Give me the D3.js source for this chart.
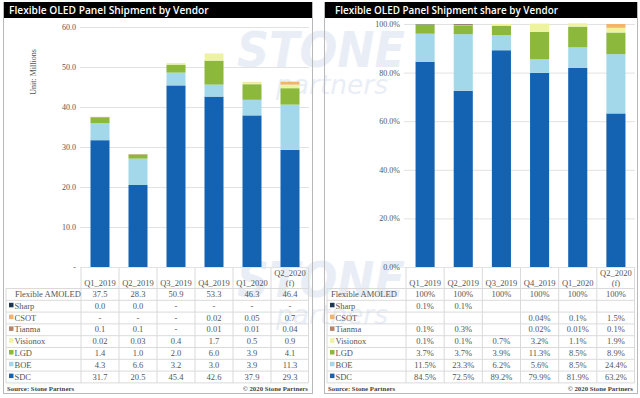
<!DOCTYPE html>
<html><head><meta charset="utf-8">
<script src="https://cdn.jsdelivr.net/npm/d3@7"></script>
<style>body{margin:0;background:#fff}svg{display:block}</style>
</head><body>
<svg id="c" width="640" height="398"></svg>
<script>
// ---------- DATA ----------
const categories = ["Q1_2019","Q2_2019","Q3_2019","Q4_2019","Q1_2020","Q2_2020"];
const categoryLabels = [["Q1_2019"],["Q2_2019"],["Q3_2019"],["Q4_2019"],["Q1_2020"],["Q2_2020","(f)"]];
const vendors = ["Sharp","CSOT","Tianma","Visionox","LGD","BOE","SDC"];
const vendorColors = ["#1b3552","#f2b36b","#b4836a","#eef39f","#8cb83b","#a3d8ea","#1363b2"];

// Shipments (unit: millions)
const totalShip   = [37.5, 28.3, 50.9, 53.3, 46.3, 46.4];
const sharpShip   = [0.0, 0.0, null, null, null, null];
const csotShip    = [null, null, null, 0.02, 0.05, 0.7];
const tianmaShip  = [0.1, 0.1, null, 0.01, 0.01, 0.04];
const visionoxShip= [0.02, 0.03, 0.4, 1.7, 0.5, 0.9];
const lgdShip     = [1.4, 1.0, 2.0, 6.0, 3.9, 4.1];
const boeShip     = [4.3, 6.6, 3.2, 3.0, 3.9, 11.3];
const sdcShip     = [31.7, 20.5, 45.4, 42.6, 37.9, 29.3];

// Shares (%)
const totalShare   = [100, 100, 100, 100, 100, 100];
const sharpShare   = [0.1, 0.1, null, null, null, null];
const csotShare    = [null, null, null, 0.04, 0.1, 1.5];
const tianmaShare  = [0.1, 0.3, null, 0.02, 0.01, 0.1];
const visionoxShare= [0.1, 0.1, 0.7, 3.2, 1.1, 1.9];
const lgdShare     = [3.7, 3.7, 3.9, 11.3, 8.5, 8.9];
const boeShare     = [11.5, 23.3, 6.2, 5.6, 8.5, 24.4];
const sdcShare     = [84.5, 72.5, 89.2, 79.9, 81.9, 63.2];

const shipTicks  = [0, 10, 20, 30, 40, 50, 60];
const shareTicks = [0, 20, 40, 60, 80, 100];

const shipSeries  = [sharpShip, csotShip, tianmaShip, visionoxShip, lgdShip, boeShip, sdcShip];
const shareSeries = [sharpShare, csotShare, tianmaShare, visionoxShare, lgdShare, boeShare, sdcShare];

// ---------- DRAW ----------
const svg = d3.select("#c");
const SERIF = "'Liberation Serif','Times New Roman',serif";
const SANS = "'Open Sans','Noto Sans',sans-serif";

function fmtNum(v){
  if (v === null) return "-";
  const t = v*10;
  return Math.abs(t - Math.round(t)) < 1e-9 ? v.toFixed(1) : String(v);
}
function fmtPct(v){
  if (v === null) return "";
  return fmtNum(v) + "%";
}

// faint background watermark (drawn first, behind everything)
const wm = svg.append("g").attr("pointer-events", "none");
function watermark(g, y){
  g.append("text").attr("x", 237).attr("y", y)
    .attr("font-family", "'DejaVu Sans',sans-serif").attr("font-weight", "bold").attr("font-style", "italic")
    .attr("font-size", 50).attr("textLength", 168).attr("lengthAdjust", "spacingAndGlyphs")
    .attr("fill", "#c3d0e8").attr("opacity", 0.35).text("STONE");
  g.append("text").attr("x", 276).attr("y", y + 27)
    .attr("font-family", "'DejaVu Sans',sans-serif").attr("font-style", "italic")
    .attr("font-size", 26).attr("textLength", 112).attr("lengthAdjust", "spacingAndGlyphs")
    .attr("fill", "#c3d0e8").attr("opacity", 0.35).text("partners");
}

function panel(cfg){
  const g = svg.append("g");
  // border
  g.append("rect").attr("x", cfg.px0 + 0.5).attr("y", 2.5)
    .attr("width", cfg.px1 - cfg.px0).attr("height", 391)
    .attr("fill", "none").attr("stroke", "#b8b8b8");
  // title bar
  g.append("rect").attr("x", cfg.px0 + 1).attr("y", 2)
    .attr("width", cfg.px1 - cfg.px0 - 1).attr("height", 16).attr("fill", "#000");
  g.append("text").attr("x", cfg.titleX).attr("y", 14)
    .attr("font-family", SANS).attr("font-weight", 600).attr("font-size", cfg.titleSize)
    .attr("fill", "#fff").text(cfg.title);

  const x = d3.scaleBand().domain(categories).range([cfg.x0, cfg.x1])
    .paddingInner(0.5).paddingOuter(0.25);
  const y = d3.scaleLinear().domain(cfg.domain).range([267, cfg.yTop]);

  // gridlines
  const yAxis = d3.axisLeft(y).tickValues(cfg.ticks).tickSize(-(cfg.x1 - cfg.gx0)).tickFormat(cfg.tickFmt).tickPadding(4);
  const ag = g.append("g").attr("transform", `translate(${cfg.gx0},0)`).call(yAxis);
  ag.select(".domain").remove();
  ag.selectAll(".tick line").attr("stroke", "#e2e2e2");
  ag.selectAll(".tick text").attr("font-family", SERIF).attr("font-size", 8).attr("fill", "#555");

  // stacked bars (bottom to top: SDC, BOE, LGD, Visionox, Tianma, CSOT, Sharp)
  const order = vendors.slice().reverse();
  const rows = categories.map((c, i) => {
    const r = {cat: c};
    vendors.forEach((v, k) => r[v] = cfg.series[k][i] === null ? 0 : cfg.series[k][i]);
    return r;
  });
  const stack = d3.stack().keys(order)(rows);
  const color = d3.scaleOrdinal().domain(vendors).range(vendorColors);
  g.append("g").selectAll("g").data(stack).join("g").attr("fill", d => color(d.key))
    .selectAll("rect").data(d => d).join("rect")
    .attr("x", d => x(d.data.cat)).attr("width", x.bandwidth())
    .attr("y", d => y(d[1])).attr("height", d => Math.max(0, y(d[0]) - y(d[1])));

  // data table
  const t = g.append("g");
  const rowH = 11.8;
  const firstRowY = 294;
  const tableTop = 268, headerBottom = 288.5;
  const nRows = 8;
  const tableBottom = headerBottom + nRows * rowH;
  const lineCol = "#dadada";
  const bounds = categories.map(c => x(c) - x.step()*x.paddingInner()/2);
  bounds.push(cfg.x1 - 0.5);
  bounds.forEach(bx => {
    t.append("line").attr("x1", bx).attr("x2", bx).attr("y1", tableTop).attr("y2", tableBottom)
      .attr("stroke", lineCol);
  });
  t.append("line").attr("x1", cfg.lx).attr("x2", cfg.lx).attr("y1", headerBottom).attr("y2", tableBottom).attr("stroke", lineCol);
  for (let r = 0; r <= nRows; r++) {
    const yy = headerBottom + r * rowH;
    t.append("line").attr("x1", cfg.lx).attr("x2", cfg.x1 - 0.5).attr("y1", yy).attr("y2", yy).attr("stroke", lineCol);
  }
  categories.forEach((c, i) => {
    const lines = categoryLabels[i];
    lines.forEach((s, j) => {
      t.append("text").attr("x", x(c) + x.bandwidth()/2)
        .attr("y", lines.length === 1 ? 286 : 276 + j*9.5)
        .attr("text-anchor", "middle").attr("font-family", SERIF).attr("font-size", 8.5)
        .attr("fill", "#555").text(s);
    });
  });
  const rowNames = ["Flexible AMOLED"].concat(vendors);
  const rowVals = [cfg.total].concat(cfg.series);
  rowNames.forEach((name, r) => {
    const yy = firstRowY + r * rowH + 3;
    if (r === 0) {
      t.append("text").attr("x", cfg.lx + cfg.totalIndent).attr("y", yy)
        .attr("font-family", SERIF).attr("font-size", 8.5).attr("fill", "#555").text(name);
    } else {
      t.append("rect").attr("x", cfg.lx + 3).attr("y", yy - 6).attr("width", 4.5).attr("height", 4.5)
        .attr("fill", vendorColors[r-1]);
      t.append("text").attr("x", cfg.lx + 8.5).attr("y", yy)
        .attr("font-family", SERIF).attr("font-size", 8.5).attr("fill", "#555").text(name);
    }
    categories.forEach((c, i) => {
      t.append("text").attr("x", x(c) + x.bandwidth()/2).attr("y", yy)
        .attr("text-anchor", "middle").attr("font-family", SERIF).attr("font-size", 8.5)
        .attr("fill", "#555").text(r === 0 ? cfg.totalFmt(rowVals[r][i]) : cfg.valFmt(rowVals[r][i]));
    });
  });
  t.append("text").attr("x", cfg.px0 + 4).attr("y", 391)
    .attr("font-family", SERIF).attr("font-weight", "bold").attr("font-size", 6.8).attr("fill", "#444")
    .text("Source: Stone Partners");
  t.append("text").attr("x", cfg.px1 - 4).attr("y", 391).attr("text-anchor", "end")
    .attr("font-family", SERIF).attr("font-weight", "bold").attr("font-size", 6.8).attr("fill", "#444")
    .text("© 2020 Stone Partners");

  if (cfg.yTitle) {
    g.append("text").attr("transform", `translate(36,72) rotate(-90)`).attr("text-anchor", "middle")
      .attr("font-family", SERIF).attr("font-size", 8).attr("fill", "#555").text(cfg.yTitle);
  }
  return g;
}

watermark(wm, 67);
watermark(wm, 297);

panel({
  px0: 3, px1: 312, x0: 81, x1: 309, gx0: 80, lx: 6, totalIndent: 9,
  title: "Flexible OLED Panel Shipment by Vendor", titleX: 9, titleSize: 10.2,
  domain: [0, 60], yTop: 27, ticks: shipTicks,
  tickFmt: v => v === 0 ? "-" : v.toFixed(1),
  series: shipSeries, total: totalShip,
  totalFmt: v => v.toFixed(1), valFmt: fmtNum,
  yTitle: "Unit: Millions"
});
panel({
  px0: 324, px1: 637, x0: 406, x1: 635, gx0: 404, lx: 327, totalIndent: 4,
  title: "Flexible OLED Panel Shipment share by Vendor", titleX: 335, titleSize: 9.9,
  domain: [0, 100], yTop: 24, ticks: shareTicks,
  tickFmt: v => v.toFixed(1) + "%",
  series: shareSeries, total: totalShare,
  totalFmt: v => v + "%", valFmt: fmtPct,
  yTitle: null
});
</script>
</body></html>
